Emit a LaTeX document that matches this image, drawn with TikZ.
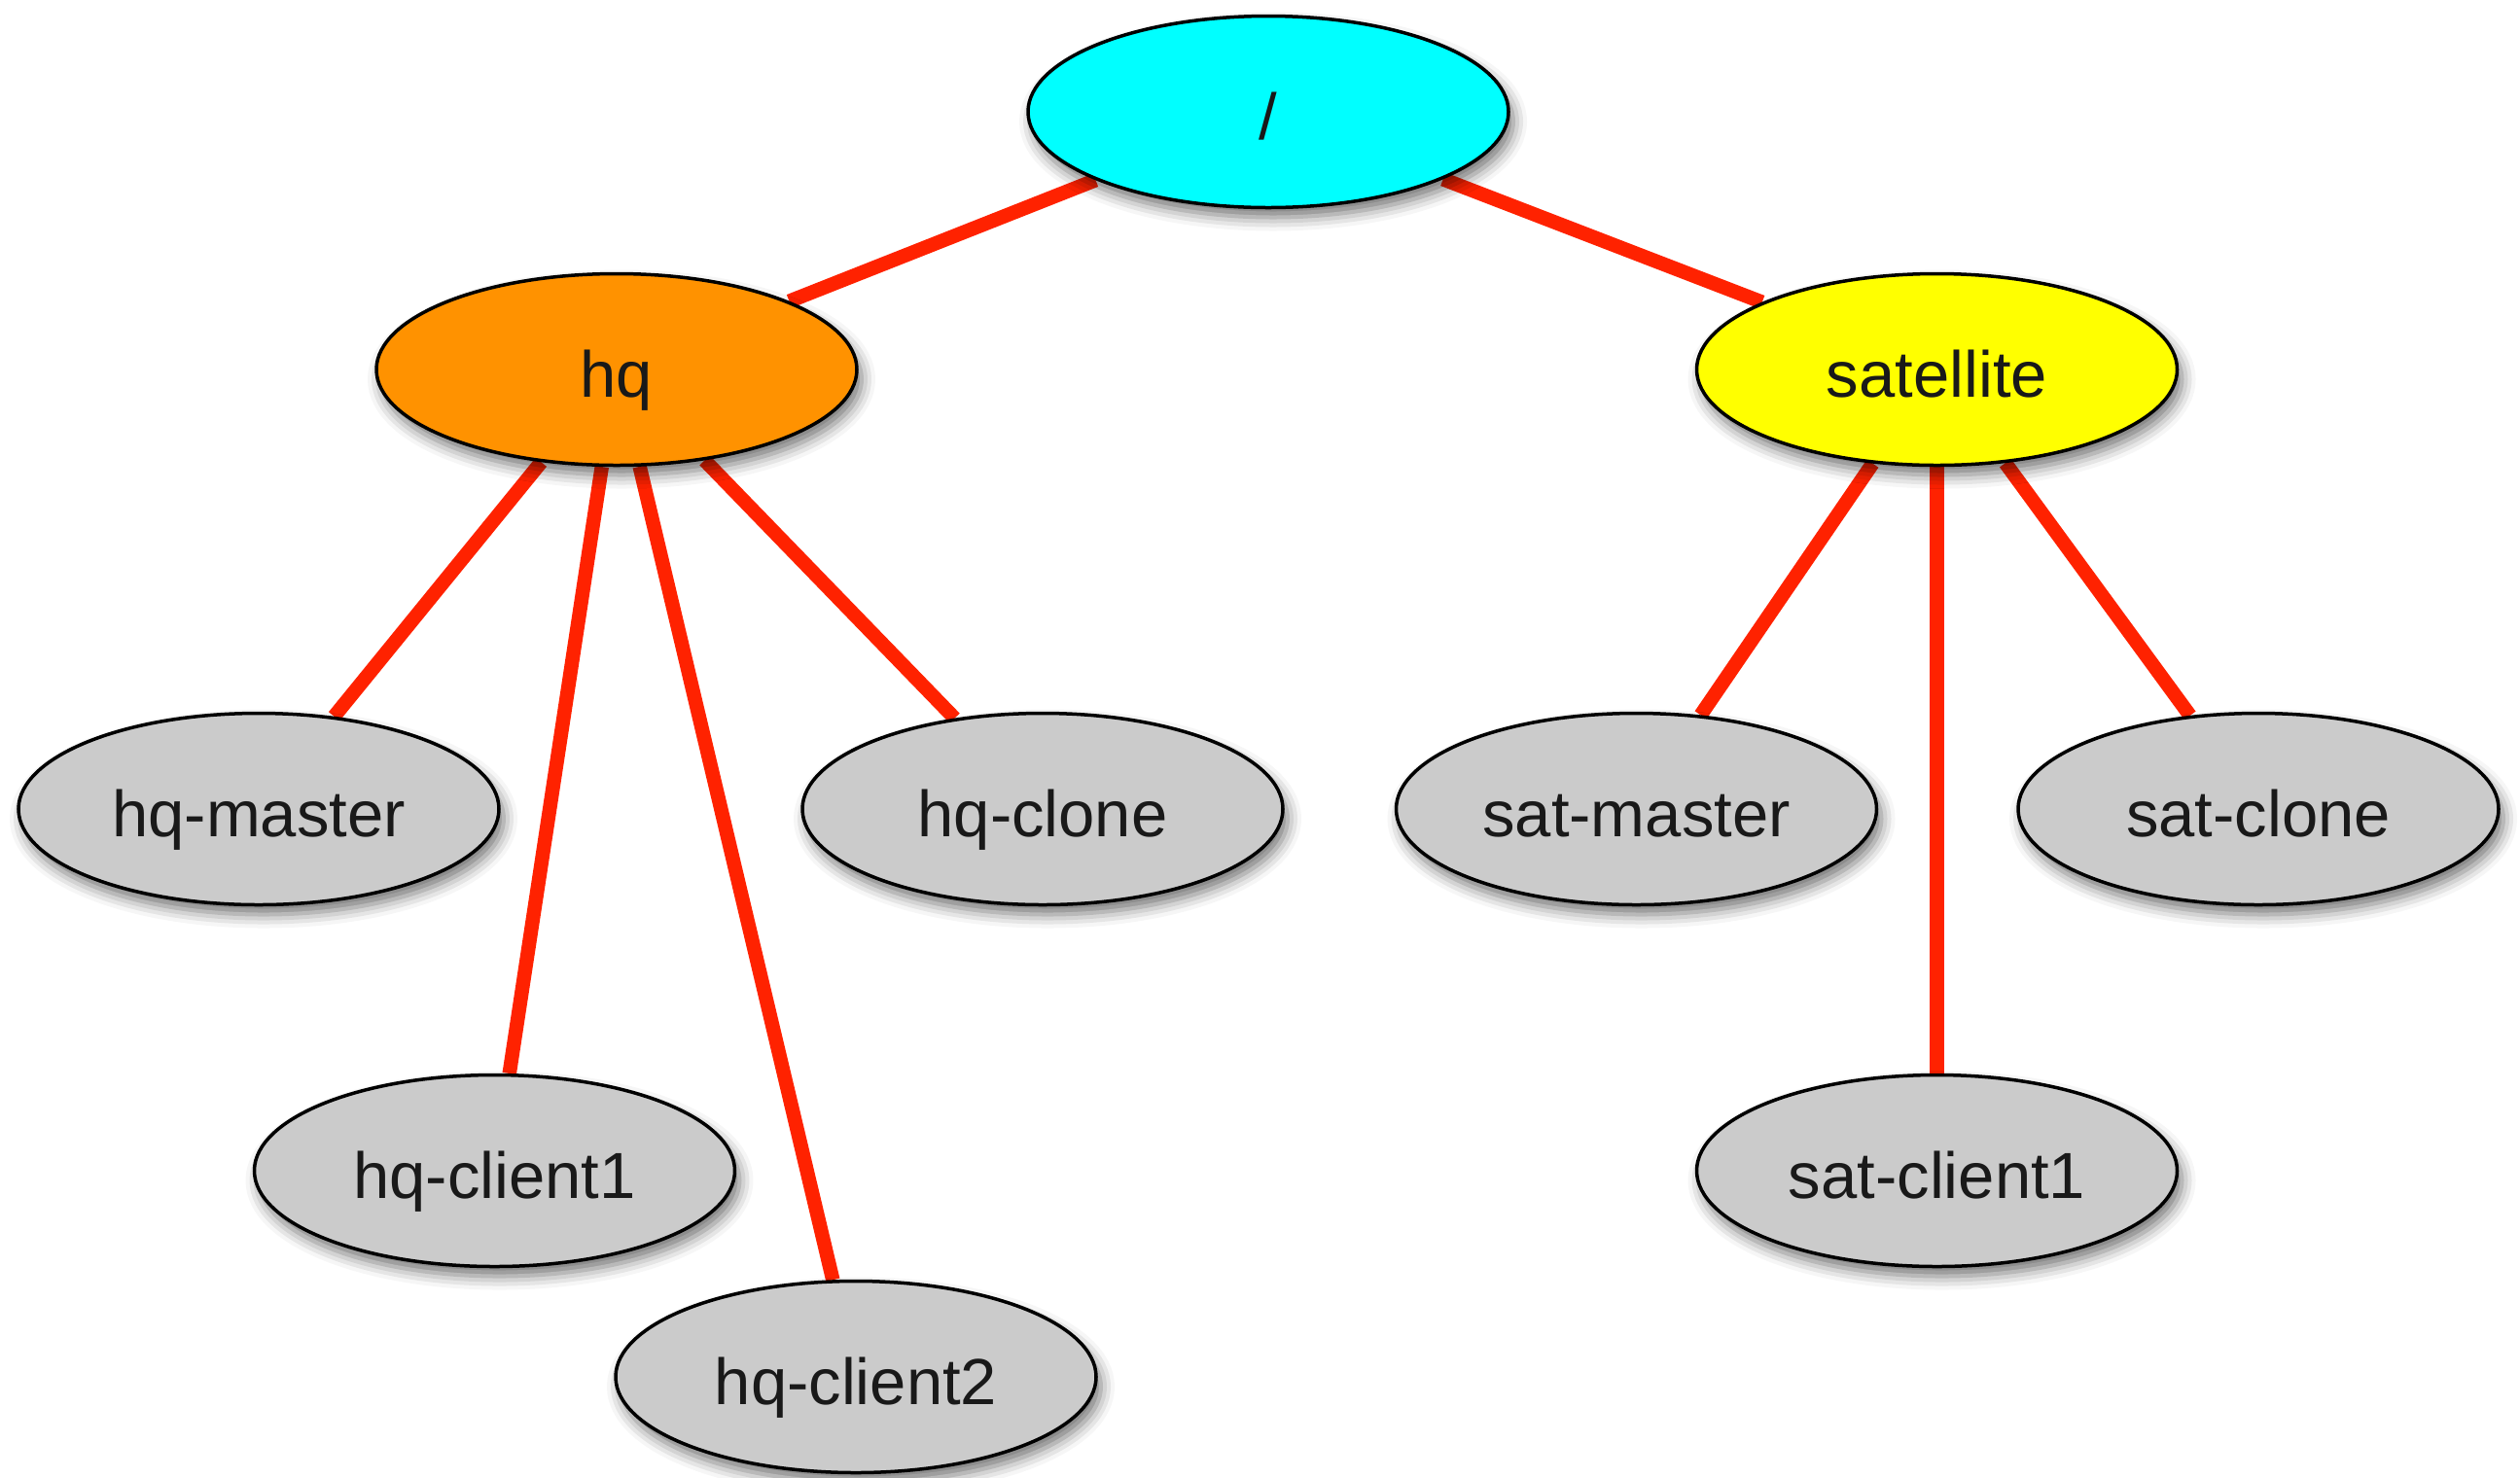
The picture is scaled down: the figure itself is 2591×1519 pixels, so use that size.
\documentclass[tikz,border=0pt]{standalone}
\usepackage{fontspec}
\setmainfont{Liberation Sans}
\usetikzlibrary{shapes.geometric,shadows.blur,backgrounds}
\definecolor{nodecyan}{RGB}{0,255,255}
\definecolor{nodeorange}{RGB}{255,146,0}
\definecolor{nodeyellow}{RGB}{255,255,0}
\definecolor{nodegray}{RGB}{203,203,203}
\definecolor{edgered}{RGB}{255,34,0}
\definecolor{textdark}{RGB}{25,25,25}
\tikzset{
  nodebase/.style={ellipse, draw=black, line width=3.5pt,
    minimum width=494pt, minimum height=197pt, inner sep=0pt,
    text height=57pt, text depth=0pt, text=textdark,
    font=\fontsize{67}{72}\selectfont,
    blur shadow={shadow xshift=5pt, shadow yshift=-10pt, shadow blur radius=14pt, shadow opacity=55}},
  rootnode/.style={nodebase, fill=nodecyan},
  hqnode/.style={nodebase, fill=nodeorange},
  satnode/.style={nodebase, fill=nodeyellow},
  leafnode/.style={nodebase, fill=nodegray},
  link/.style={draw=edgered, line width=14.5pt}
}
\begin{document}
\begin{tikzpicture}[x=1pt,y=1pt]
\useasboundingbox (0,0) rectangle (2591,-1519);
\node[rootnode] (root) at (1304,-115) {/};
\node[hqnode] (hq) at (634,-380) {hq};
\node[satnode] (sat) at (1991.5,-380) {satellite};
\node[leafnode] (hqmaster) at (266,-832) {hq-master};
\node[leafnode] (hqclone) at (1072,-832) {hq-clone};
\node[leafnode] (satmaster) at (1682.5,-832) {sat-master};
\node[leafnode] (satclone) at (2322,-832) {sat-clone};
\node[leafnode] (hqclient1) at (508.5,-1204) {hq-client1};
\node[leafnode] (satclient1) at (1991.5,-1204) {sat-client1};
\node[leafnode] (hqclient2) at (880,-1416) {hq-client2};
\begin{scope}[on background layer]
\draw[link] (root) -- (hq);
\draw[link] (root) -- (sat);
\draw[link] (hq) -- (hqmaster);
\draw[link] (hq) -- (hqclient1);
\draw[link] (hq) -- (hqclient2);
\draw[link] (hq) -- (hqclone);
\draw[link] (sat) -- (satmaster);
\draw[link] (sat) -- (satclient1);
\draw[link] (sat) -- (satclone);
\end{scope}
\end{tikzpicture}
\end{document}
